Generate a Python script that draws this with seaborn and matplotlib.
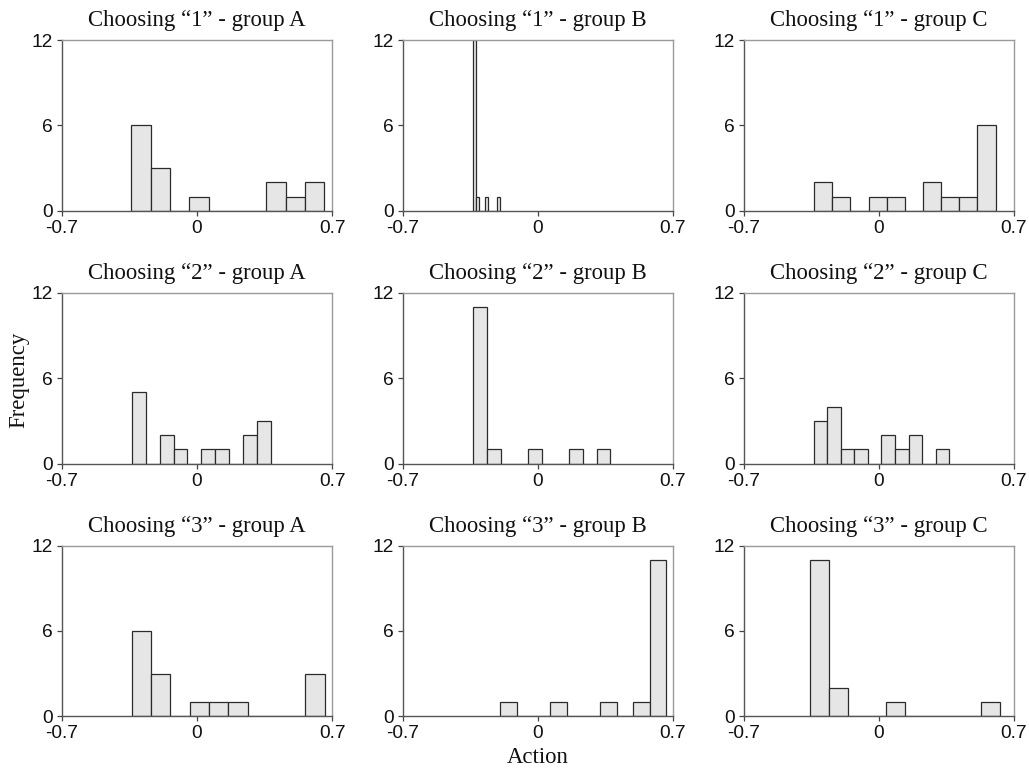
import numpy as np
import pandas as pd
import seaborn as sns
import matplotlib.pyplot as plt

# panel titles, row by row
titles = ['Choosing \u201c1\u201d - group A', 'Choosing \u201c1\u201d - group B', 'Choosing \u201c1\u201d - group C',
          'Choosing \u201c2\u201d - group A', 'Choosing \u201c2\u201d - group B', 'Choosing \u201c2\u201d - group C',
          'Choosing \u201c3\u201d - group A', 'Choosing \u201c3\u201d - group B', 'Choosing \u201c3\u201d - group C']

# left edge of first bin and bin width for each panel
bin_start = [-0.340, -0.337, -0.335, -0.337, -0.3345, -0.336, -0.338, -0.194, -0.355]
bin_width = [0.100, 0.0155, 0.094, 0.072, 0.071, 0.070, 0.100, 0.086, 0.0985]

# frequency in each bin
counts_1A = [6, 3, 0, 1, 0, 0, 0, 2, 1, 2]
counts_1B = [12, 1, 0, 0, 1, 0, 0, 0, 1]
counts_1C = [2, 1, 0, 1, 1, 0, 2, 1, 1, 6]
counts_2A = [5, 0, 2, 1, 0, 1, 1, 0, 2, 3]
counts_2B = [11, 1, 0, 0, 1, 0, 0, 1, 0, 1]
counts_2C = [3, 4, 1, 1, 0, 2, 1, 2, 0, 1]
counts_3A = [6, 3, 0, 1, 1, 1, 0, 0, 0, 3]
counts_3B = [1, 0, 0, 1, 0, 0, 1, 0, 1, 11]
counts_3C = [11, 2, 0, 0, 1, 0, 0, 0, 0, 1]

all_counts = [counts_1A, counts_1B, counts_1C,
              counts_2A, counts_2B, counts_2C,
              counts_3A, counts_3B, counts_3C]

x_ticks = [-0.7, 0, 0.7]
x_ticklabels = ['-0.7', '0', '0.7']
y_ticks = [0, 6, 12]

sns.set_theme(style='white')
plt.rcParams['font.family'] = ['Liberation Sans', 'DejaVu Sans']
plt.rcParams['text.color'] = '#111111'
plt.rcParams['xtick.labelcolor'] = '#111111'
plt.rcParams['ytick.labelcolor'] = '#111111'

fig, axs = plt.subplots(3, 3, figsize=(10.29, 7.68), dpi=100)
fig.subplots_adjust(left=0.060, right=0.9854, top=0.9479, bottom=0.0673,
                    wspace=0.261, hspace=0.48)

for i, ax in enumerate(axs.flat):
    counts = all_counts[i]
    edges = bin_start[i] + bin_width[i] * np.arange(len(counts) + 1)
    df = pd.DataFrame({'action': (edges[:-1] + edges[1:]) / 2, 'freq': counts})
    sns.histplot(data=df, x='action', weights='freq', bins=edges.tolist(), ax=ax,
                 color='#e6e6e6', edgecolor='#2b2b2b', linewidth=0.9, alpha=1)

    ax.set_xlim(-0.7, 0.7)
    ax.set_ylim(0, 12)
    ax.set_xticks(x_ticks)
    ax.set_xticklabels(x_ticklabels)
    ax.set_yticks(y_ticks)
    ax.set_xlabel('')
    ax.set_ylabel('')
    ax.tick_params(axis='both', labelsize=13.8, length=3.5, width=0.9,
                   direction='out', color='#444444',
                   bottom=True, left=True)
    ax.tick_params(axis='x', pad=3)
    ax.tick_params(axis='y', pad=3)
    for side in ['left', 'bottom']:
        ax.spines[side].set_color('#555555')
        ax.spines[side].set_linewidth(1.0)
    for side in ['top', 'right']:
        ax.spines[side].set_color('#9a9a9a')
        ax.spines[side].set_linewidth(1.0)
    ax.set_title(titles[i], family=['Liberation Serif'], fontsize=16.4, pad=10)

fig.text(0.018, 0.505, 'Frequency', rotation=90, ha='center', va='center',
         family=['Liberation Serif'], fontsize=16.4)
fig.text(0.523, 0.014, 'Action', ha='center', va='center',
         family=['Liberation Serif'], fontsize=16.4)

plt.savefig('out.png', dpi=100)
